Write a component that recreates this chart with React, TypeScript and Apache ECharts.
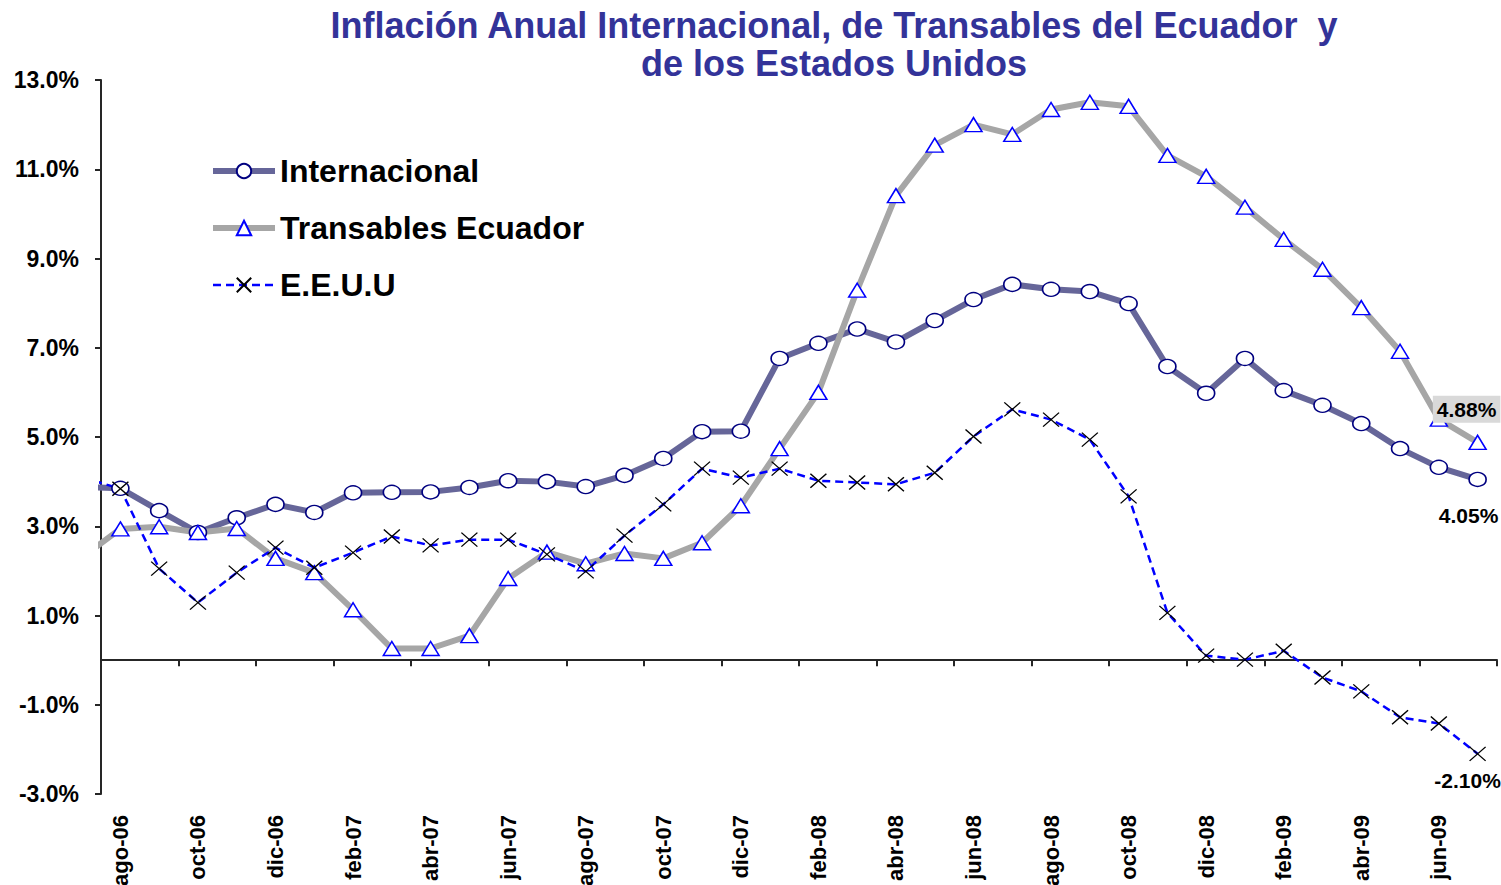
import React, { useEffect, useRef } from 'react';
import * as echarts from 'echarts';

// Months: the first one (jul-06) lies just left of the plot area and is clipped,
// so only the line segment entering the plot is visible.
const months = [
  'jul-06', 'ago-06', 'sep-06', 'oct-06', 'nov-06', 'dic-06',
  'ene-07', 'feb-07', 'mar-07', 'abr-07', 'may-07', 'jun-07', 'jul-07', 'ago-07', 'sep-07', 'oct-07', 'nov-07', 'dic-07',
  'ene-08', 'feb-08', 'mar-08', 'abr-08', 'may-08', 'jun-08', 'jul-08', 'ago-08', 'sep-08', 'oct-08', 'nov-08', 'dic-08',
  'ene-09', 'feb-09', 'mar-09', 'abr-09', 'may-09', 'jun-09', 'jul-09',
];

const internacional = [
  3.88, 3.85, 3.35, 2.86, 3.19, 3.49,
  3.31, 3.75, 3.76, 3.77, 3.87, 4.02, 4.0, 3.89, 4.14, 4.52, 5.12, 5.13,
  6.76, 7.1, 7.42, 7.13, 7.61, 8.08, 8.42, 8.31, 8.26, 7.99, 6.58, 5.98,
  6.76, 6.04, 5.71, 5.3, 4.74, 4.32, 4.05,
];

const transables = [
  2.3, 2.94, 2.99, 2.86, 2.95, 2.28,
  1.96, 1.13, 0.26, 0.26, 0.55, 1.83, 2.42, 2.16, 2.39, 2.28, 2.63, 3.46,
  4.74, 6.0, 8.29, 10.41, 11.54, 12.0, 11.78, 12.34, 12.5, 12.41, 11.31, 10.84,
  10.15, 9.43, 8.76, 7.9, 6.92, 5.4, 4.88,
];

const eeuu = [
  4.1, 3.84, 2.05, 1.29, 1.96, 2.52,
  2.07, 2.41, 2.77, 2.57, 2.7, 2.7, 2.37, 1.99, 2.79, 3.49, 4.29, 4.09,
  4.29, 4.02, 3.98, 3.94, 4.2, 5.01, 5.62, 5.39, 4.94, 3.67, 1.06, 0.1,
  0.01, 0.21, -0.39, -0.7, -1.28, -1.42, -2.1,
];

const yTickValues = [-3, -1, 1, 3, 5, 7, 9, 11, 13];
const seriesNames = ['Internacional', 'Transables Ecuador', 'E.E.U.U'];
const titleLines = [
  'Inflación Anual Internacional, de Transables del Ecuador  y',
  'de los Estados Unidos',
];

const FONT = "'Liberation Sans', Arial, Helvetica, sans-serif";

function toPoints(values: number[], lastLabel?: any) {
  return values.map((v, i) => {
    const pt = [i - 0.5, v];
    if (i === values.length - 1 && lastLabel) {
      return { value: pt, label: lastLabel };
    }
    return pt;
  });
}

const pctFormatter = (p: any) => (p.value[1] as number).toFixed(2) + '%';

const labelBase = {
  show: true,
  formatter: pctFormatter,
  color: '#000',
  fontFamily: FONT,
  fontWeight: 'bold',
  fontSize: 21,
};

const titleStyle = {
  fill: '#333399',
  fontFamily: FONT,
  fontWeight: 'bold',
  fontSize: 36,
  align: 'center',
  verticalAlign: 'middle',
  textAlign: 'center',
  textVerticalAlign: 'middle',
};

export default function App() {
  const ref = useRef<HTMLDivElement>(null);

  useEffect(() => {
    document.body.style.margin = '0';
    if (!ref.current) return;
    const chart = echarts.init(ref.current, undefined, { renderer: 'svg' });

    const option: any = {
      animation: false,
      backgroundColor: '#ffffff',
      graphic: [
        { type: 'text', x: 834, y: 25, style: { ...titleStyle, text: titleLines[0] } },
        { type: 'text', x: 834, y: 63, style: { ...titleStyle, text: titleLines[1] } },
      ],
      legend: {
        orient: 'vertical',
        left: 205,
        top: 150,
        itemWidth: 62,
        itemHeight: 18,
        itemGap: 25,
        selectedMode: false,
        lineStyle: { width: 'inherit' },
        textStyle: {
          color: '#000',
          fontFamily: FONT,
          fontWeight: 'bold',
          fontSize: 32,
        },
        data: [
          { name: seriesNames[0], lineStyle: { width: 6 } },
          { name: seriesNames[1], lineStyle: { width: 6 } },
          { name: seriesNames[2], lineStyle: { width: 2.5 } },
        ],
      },
      grid: {
        left: 101,
        top: 80,
        width: 1396,
        height: 714,
        containLabel: false,
        outerBoundsMode: 'none',
      },
      xAxis: [
        {
          type: 'value',
          min: 0,
          max: 36,
          interval: 2,
          position: 'bottom',
          axisLine: {
            show: true,
            onZero: true,
            lineStyle: { color: '#262626', width: 2 },
          },
          axisTick: {
            show: true,
            inside: false,
            length: 6,
            lineStyle: { color: '#262626', width: 2 },
          },
          axisLabel: { show: false },
          splitLine: { show: false },
        },
        {
          type: 'category',
          data: months.slice(1),
          boundaryGap: true,
          position: 'bottom',
          axisLine: { show: false, onZero: false },
          axisTick: { show: false },
          splitLine: { show: false },
          axisLabel: {
            interval: 1,
            rotate: 90,
            margin: 21,
            color: '#000',
            fontFamily: FONT,
            fontWeight: 'bold',
            fontSize: 22,
          },
        },
      ],
      yAxis: {
        type: 'value',
        min: -3,
        max: 13,
        axisLine: {
          show: true,
          onZero: false,
          lineStyle: { color: '#262626', width: 2 },
        },
        axisTick: {
          show: true,
          length: 6,
          customValues: yTickValues,
          lineStyle: { color: '#262626', width: 2 },
        },
        axisLabel: {
          customValues: yTickValues,
          margin: 22,
          color: '#000',
          fontFamily: FONT,
          fontWeight: 'bold',
          fontSize: 23,
          formatter: (v: number) => v.toFixed(1) + '%',
        },
        splitLine: { show: false },
      },
      tooltip: { show: false },
      series: [
        {
          name: seriesNames[0],
          type: 'line',
          xAxisIndex: 0,
          yAxisIndex: 0,
          clip: true,
          data: toPoints(internacional, {
            ...labelBase,
            position: 'bottom',
            distance: 18,
            offset: [-9, 0],
          }),
          symbol: 'circle',
          symbolSize: [17, 14],
          showAllSymbol: true,
          lineStyle: { color: '#666699', width: 6 },
          itemStyle: { color: '#ffffff', borderColor: '#000080', borderWidth: 1.5 },
          emphasis: { disabled: true },
        },
        {
          name: seriesNames[1],
          type: 'line',
          xAxisIndex: 0,
          yAxisIndex: 0,
          clip: true,
          data: toPoints(transables, {
            ...labelBase,
            position: 'top',
            distance: 12,
            offset: [-11, 0],
            backgroundColor: '#d9d9d9',
            padding: [3, 4, 3, 4],
          }),
          symbol: 'triangle',
          symbolSize: [17, 14],
          showAllSymbol: true,
          lineStyle: { color: '#a6a6a6', width: 6 },
          itemStyle: { color: '#ffffff', borderColor: '#0000ff', borderWidth: 1.5 },
          emphasis: { disabled: true },
        },
        {
          name: seriesNames[2],
          type: 'line',
          xAxisIndex: 0,
          yAxisIndex: 0,
          clip: true,
          data: toPoints(eeuu, {
            ...labelBase,
            position: 'bottom',
            distance: 9,
            offset: [-10, 0],
          }),
          symbol: 'path://M0,0L16,14M16,0L0,14',
          symbolSize: [16, 14],
          showAllSymbol: true,
          lineStyle: { color: '#0000ff', width: 2.5, type: [8, 5] },
          itemStyle: { color: '#000000', borderColor: '#000000', borderWidth: 1.3 },
          emphasis: { disabled: true },
        },
      ],
    };

    chart.setOption(option);
    return () => {
      chart.dispose();
    };
  }, []);

  return <div ref={ref} style={{ width: 1501, height: 885, background: '#fff' }} />;
}
